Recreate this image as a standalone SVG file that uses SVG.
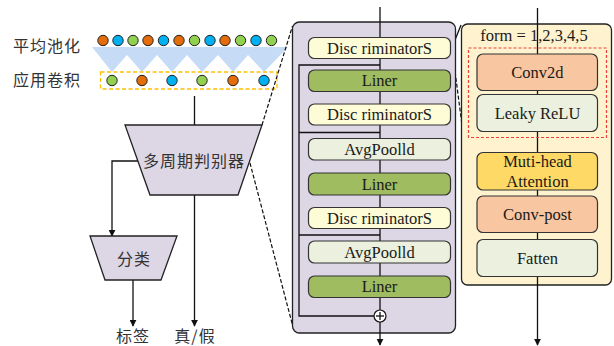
<svg xmlns="http://www.w3.org/2000/svg" width="614" height="346" viewBox="0 0 614 346">
<defs>
<style>
.cn{font-family:"Noto Sans CJK SC","Noto Sans",sans-serif;font-size:16px;fill:#333;letter-spacing:1px}
.en{font-family:"Liberation Serif","Times New Roman",serif;font-size:16.5px;fill:#1a1a1a;text-anchor:middle}
.ln{stroke:#111;stroke-width:1.3;fill:none}
.dash{stroke:#111;stroke-width:1.2;fill:none;stroke-dasharray:4,2}
.box{stroke:#333;stroke-width:1.2}
.disc{fill:#fefcd6}
.liner{fill:#9fbd60}
.avg{fill:#ebf1de}
.conv{fill:#f8c6a0}
.att{fill:#ffd966}
.or{fill:#e46c0a;stroke:#222;stroke-width:1}
.bl{fill:#00b0f0;stroke:#222;stroke-width:1}
.gr{fill:#92d050;stroke:#222;stroke-width:1}
.trap{fill:#dcd6e5;stroke:#222;stroke-width:1.3}
</style>
<marker id="ah" viewBox="0 0 10 10" refX="9" refY="5" markerWidth="7" markerHeight="7" orient="auto" markerUnits="userSpaceOnUse">
<path d="M0,0 L10,5 L0,10 z" fill="#111"/>
</marker>
</defs>

<!-- pooling / conv illustration -->
<g id="pooling">
<text class="cn" x="13" y="52">平均池化</text>
<polygon points="92,47 288,47 264,72 248,55 233,72 218,55 202,72 187,55 172,72 157,55 142,72 127,55 112,72" fill="#c6dbf5"/>
<circle class="or" cx="103" cy="40.5" r="5.2"/>
<circle class="bl" cx="118" cy="40.5" r="5.2"/>
<circle class="gr" cx="133" cy="40.5" r="5.2"/>
<circle class="or" cx="148" cy="40.5" r="5.2"/>
<circle class="bl" cx="163.5" cy="40.5" r="5.2"/>
<circle class="or" cx="179" cy="40.5" r="5.2"/>
<circle class="gr" cx="194.5" cy="40.5" r="5.2"/>
<circle class="bl" cx="210" cy="40.5" r="5.2"/>
<circle class="or" cx="225" cy="40.5" r="5.2"/>
<circle class="gr" cx="240.5" cy="40.5" r="5.2"/>
<circle class="bl" cx="256" cy="40.5" r="5.2"/>
<circle class="gr" cx="271.5" cy="40.5" r="5.2"/>
</g>
<g id="conv-apply">
<text class="cn" x="13" y="86">应用卷积</text>
<rect x="100.5" y="72" width="176.5" height="17" fill="none" stroke="#ffc000" stroke-width="1.3" stroke-dasharray="4,2.5"/>
<circle class="gr" cx="112" cy="80.5" r="5.2"/>
<circle class="or" cx="142" cy="80.5" r="5.2"/>
<circle class="bl" cx="172" cy="80.5" r="5.2"/>
<circle class="gr" cx="202" cy="80.5" r="5.2"/>
<circle class="or" cx="233" cy="80.5" r="5.2"/>
<circle class="bl" cx="264" cy="80.5" r="5.2"/>
</g>

<!-- connectors -->
<g id="connectors">
<line class="ln" x1="194.5" y1="96" x2="194.5" y2="125"/>
<line class="ln" x1="194.5" y1="195" x2="194.5" y2="326" marker-end="url(#ah)"/>
<polyline class="ln" points="138,161 112,161 112,236" marker-end="url(#ah)"/>
<line class="ln" x1="133" y1="280" x2="133" y2="326" marker-end="url(#ah)"/>
<line class="dash" x1="262" y1="125" x2="292.5" y2="26"/>
<line class="dash" x1="250" y1="163" x2="292.5" y2="325"/>
<line class="ln" x1="453" y1="45" x2="461" y2="25" stroke-width="1"/>
<line class="dash" x1="452" y1="48" x2="462" y2="125"/>
</g>

<g id="mpd">
<polygon class="trap" points="125,125 262,125 238,195 150,195"/>
<text class="cn" x="194" y="166.5" text-anchor="middle">多周期判别器</text>
</g>
<g id="classify">
<polygon class="trap" points="90,236 177,236 161,280 105,280"/>
<text class="cn" x="134" y="264.5" text-anchor="middle">分类</text>
</g>
<g id="label-tag"><text class="cn" x="133" y="342" text-anchor="middle">标签</text></g>
<g id="label-tf"><text class="cn" x="195" y="342" text-anchor="middle">真/假</text></g>

<!-- purple panel -->
<g id="panel-mpd">
<rect x="292.5" y="22" width="163" height="311" rx="7" fill="#dcd6e5" stroke="#222" stroke-width="1.3"/>
<line class="ln" x1="380" y1="7" x2="380" y2="310"/>
<polyline class="ln" points="380,65 299,65 299,316 374,316"/>
<line class="ln" x1="299" y1="132.5" x2="380" y2="132.5"/>
<line class="ln" x1="299" y1="235" x2="380" y2="235"/>
<line class="ln" x1="380" y1="322" x2="380" y2="345" marker-end="url(#ah)"/>
</g>
<g id="disc1"><rect class="box disc" x="308.5" y="37.5" width="142" height="21" rx="6"/><text class="en" x="379.5" y="53.5">Disc riminatorS</text></g>
<g id="liner1"><rect class="box liner" x="308.5" y="70" width="142" height="21.5" rx="6"/><text class="en" x="379.5" y="86">Liner</text></g>
<g id="disc2"><rect class="box disc" x="308.5" y="104" width="142" height="21" rx="6"/><text class="en" x="379.5" y="120">Disc riminatorS</text></g>
<g id="avg1"><rect class="box avg" x="308.5" y="138.5" width="142" height="21.5" rx="6"/><text class="en" x="379.5" y="154.5">AvgPoolld</text></g>
<g id="liner2"><rect class="box liner" x="308.5" y="173" width="142" height="22" rx="6"/><text class="en" x="379.5" y="189.5">Liner</text></g>
<g id="disc3"><rect class="box disc" x="308.5" y="207.5" width="142" height="21" rx="6"/><text class="en" x="379.5" y="223.5">Disc riminatorS</text></g>
<g id="avg2"><rect class="box avg" x="308.5" y="241" width="142" height="22" rx="6"/><text class="en" x="379.5" y="257.5">AvgPoolld</text></g>
<g id="liner3"><rect class="box liner" x="308.5" y="276" width="142" height="21.5" rx="6"/><text class="en" x="379.5" y="292">Liner</text></g>
<g id="sum">
<circle cx="380" cy="316" r="6" fill="#fff" stroke="#111" stroke-width="1.2"/>
<line class="ln" x1="376" y1="316" x2="384" y2="316" stroke-width="1"/>
<line class="ln" x1="380" y1="312" x2="380" y2="320" stroke-width="1"/>
</g>

<!-- yellow panel -->
<g id="panel-disc">
<rect x="461.5" y="24" width="150" height="261" rx="6" fill="#fef2cf" stroke="#222" stroke-width="1.3"/>
<line class="ln" x1="537.5" y1="8" x2="537.5" y2="345" marker-end="url(#ah)"/>
<text class="en" x="534" y="41">form = 1,2,3,4,5</text>
<rect x="468.5" y="48" width="138" height="89.5" fill="none" stroke="#e8403a" stroke-width="1.2" stroke-dasharray="3,2"/>
</g>
<g id="conv2d"><rect class="box conv" x="477" y="54" width="120.5" height="36.5" rx="6"/><text class="en" x="537.5" y="78">Conv2d</text></g>
<g id="leaky"><rect class="box avg" x="477" y="94.5" width="120.5" height="37" rx="6"/><text class="en" x="537.5" y="118.5">Leaky ReLU</text></g>
<g id="attention"><rect class="box att" x="477" y="152.5" width="120.5" height="37.5" rx="6"/><text class="en" x="537.5" y="167">Muti-head</text><text class="en" x="537.5" y="186.5">Attention</text></g>
<g id="convpost"><rect class="box conv" x="477" y="196" width="120.5" height="36.5" rx="6"/><text class="en" x="537.5" y="220">Conv-post</text></g>
<g id="fatten"><rect class="box avg" x="477" y="239.5" width="120.5" height="37" rx="6"/><text class="en" x="537.5" y="263.5">Fatten</text></g>
</svg>
